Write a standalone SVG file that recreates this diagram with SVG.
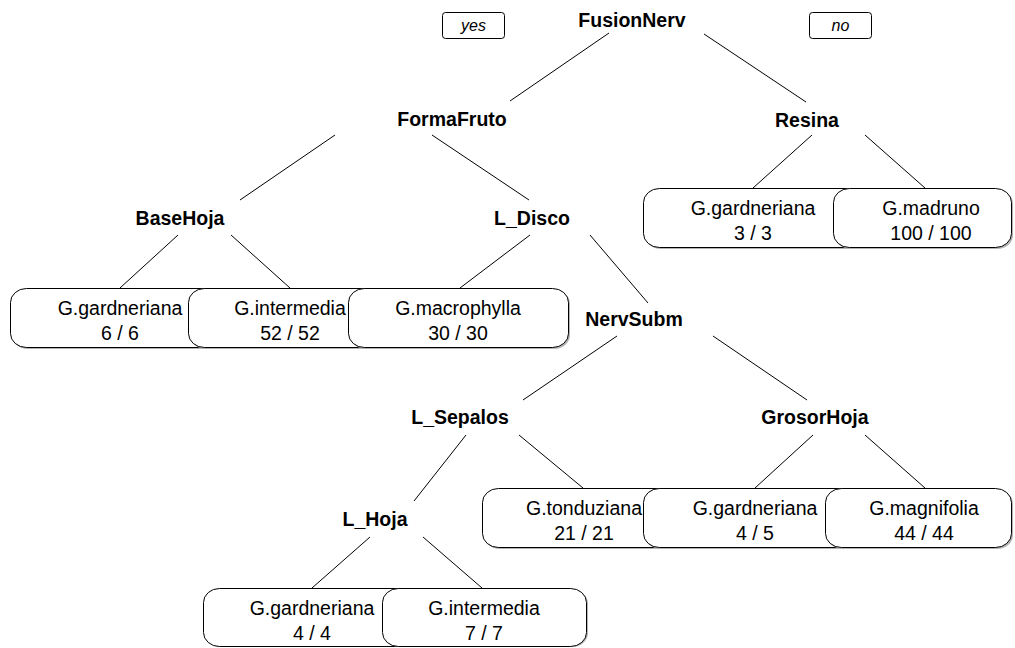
<svg xmlns="http://www.w3.org/2000/svg" width="1015" height="648" viewBox="0 0 1015 648">
<style>
.bg{fill:#fff}
.split{font-family:"Liberation Sans",Arial,sans-serif;font-weight:bold;font-size:19.5px;text-anchor:middle;fill:#000}
.lt{font-family:"Liberation Sans",Arial,sans-serif;font-size:19.5px;text-anchor:middle;fill:#000}
.yn{font-family:"Liberation Sans",Arial,sans-serif;font-style:italic;font-size:16px;text-anchor:middle;fill:#000}
.box{fill:#fff;stroke:#000;stroke-width:1}
.shadow{fill:#b4b4b4;stroke:none}
.ynbox{fill:#fff;stroke:#000;stroke-width:1}
.edges line{stroke:#000;stroke-width:1}
</style>
<rect class="bg" x="0" y="0" width="1015" height="648"/>
<g id="legend">
<rect class="ynbox" x="442.5" y="12.5" width="62" height="26" rx="3"/>
<text class="yn" x="473.5" y="31">yes</text>
<rect class="ynbox" x="809.5" y="12.5" width="62" height="26" rx="3"/>
<text class="yn" x="840.5" y="31">no</text>
</g>
<g class="edges" id="connectors">
<line x1="609" y1="33" x2="510" y2="101"/>
<line x1="704" y1="34" x2="806" y2="102"/>
<line x1="335" y1="135" x2="240" y2="200"/>
<line x1="432" y1="135" x2="529" y2="200"/>
<line x1="812" y1="135" x2="753" y2="188"/>
<line x1="865" y1="135" x2="925" y2="188"/>
<line x1="178" y1="235" x2="120" y2="288"/>
<line x1="231" y1="235" x2="290" y2="288"/>
<line x1="530" y1="235" x2="460" y2="288"/>
<line x1="590" y1="235" x2="648" y2="303"/>
<line x1="617" y1="336" x2="523" y2="400"/>
<line x1="713" y1="336" x2="807" y2="400"/>
<line x1="466" y1="435" x2="414" y2="501"/>
<line x1="519" y1="435" x2="583" y2="488"/>
<line x1="813" y1="435" x2="755" y2="488"/>
<line x1="865" y1="435" x2="925" y2="488"/>
<line x1="370" y1="537" x2="312" y2="588"/>
<line x1="423" y1="537" x2="482" y2="588"/>
</g>
<g id="n-FusionNerv"><text class="split" x="632" y="27">FusionNerv</text></g>
<g id="n-FormaFruto"><text class="split" x="452" y="126">FormaFruto</text></g>
<g id="n-Resina"><text class="split" x="807" y="127">Resina</text></g>
<g id="n-BaseHoja"><text class="split" x="180" y="225">BaseHoja</text></g>
<g id="n-L_Disco"><text class="split" x="532" y="225">L_Disco</text></g>
<g id="n-NervSubm"><text class="split" x="634" y="326">NervSubm</text></g>
<g id="n-L_Sepalos"><text class="split" x="460" y="424">L_Sepalos</text></g>
<g id="n-GrosorHoja"><text class="split" x="815" y="424">GrosorHoja</text></g>
<g id="n-L_Hoja"><text class="split" x="375" y="526">L_Hoja</text></g>

<g id="leaf-gard33">
<rect class="shadow" x="645" y="190" width="220" height="59" rx="16" ry="14"/>
<rect class="box" x="643.5" y="188.5" width="220" height="59" rx="16" ry="14"/>
<text class="lt" x="753" y="215">G.gardneriana</text><text class="lt" x="753" y="240">3 / 3</text>
</g>
<g id="leaf-madruno">
<rect class="shadow" x="835" y="190" width="178" height="59" rx="16" ry="14"/>
<rect class="box" x="833.5" y="188.5" width="178" height="59" rx="16" ry="14"/>
<text class="lt" x="931" y="215">G.madruno</text><text class="lt" x="931" y="240">100 / 100</text>
</g>
<g id="leaf-gard66">
<rect class="shadow" x="12" y="290" width="220" height="59" rx="16" ry="14"/>
<rect class="box" x="10.5" y="288.5" width="220" height="59" rx="16" ry="14"/>
<text class="lt" x="120" y="315">G.gardneriana</text><text class="lt" x="120" y="340">6 / 6</text>
</g>
<g id="leaf-inter52">
<rect class="shadow" x="190" y="290" width="204" height="59" rx="16" ry="14"/>
<rect class="box" x="188.5" y="288.5" width="204" height="59" rx="16" ry="14"/>
<text class="lt" x="290" y="315">G.intermedia</text><text class="lt" x="290" y="340">52 / 52</text>
</g>
<g id="leaf-macro">
<rect class="shadow" x="350" y="290" width="220" height="59" rx="16" ry="14"/>
<rect class="box" x="348.5" y="288.5" width="220" height="59" rx="16" ry="14"/>
<text class="lt" x="458" y="315">G.macrophylla</text><text class="lt" x="458" y="340">30 / 30</text>
</g>
<g id="leaf-tond">
<rect class="shadow" x="484" y="490" width="204" height="59" rx="16" ry="14"/>
<rect class="box" x="482.5" y="488.5" width="204" height="59" rx="16" ry="14"/>
<text class="lt" x="584" y="515">G.tonduziana</text><text class="lt" x="584" y="540">21 / 21</text>
</g>
<g id="leaf-gard45">
<rect class="shadow" x="645" y="490" width="222" height="59" rx="16" ry="14"/>
<rect class="box" x="643.5" y="488.5" width="222" height="59" rx="16" ry="14"/>
<text class="lt" x="755" y="515">G.gardneriana</text><text class="lt" x="755" y="540">4 / 5</text>
</g>
<g id="leaf-magn">
<rect class="shadow" x="827" y="490" width="186" height="59" rx="16" ry="14"/>
<rect class="box" x="825.5" y="488.5" width="186" height="59" rx="16" ry="14"/>
<text class="lt" x="924" y="515">G.magnifolia</text><text class="lt" x="924" y="540">44 / 44</text>
</g>
<g id="leaf-gard44">
<rect class="shadow" x="205" y="590" width="218" height="57" rx="16" ry="14"/>
<rect class="box" x="203.5" y="588.5" width="218" height="58" rx="16" ry="14"/>
<text class="lt" x="312" y="615">G.gardneriana</text><text class="lt" x="312" y="640">4 / 4</text>
</g>
<g id="leaf-inter77">
<rect class="shadow" x="384" y="590" width="204" height="57" rx="16" ry="14"/>
<rect class="box" x="382.5" y="588.5" width="204" height="58" rx="16" ry="14"/>
<text class="lt" x="484" y="615">G.intermedia</text><text class="lt" x="484" y="640">7 / 7</text>
</g>
</svg>
